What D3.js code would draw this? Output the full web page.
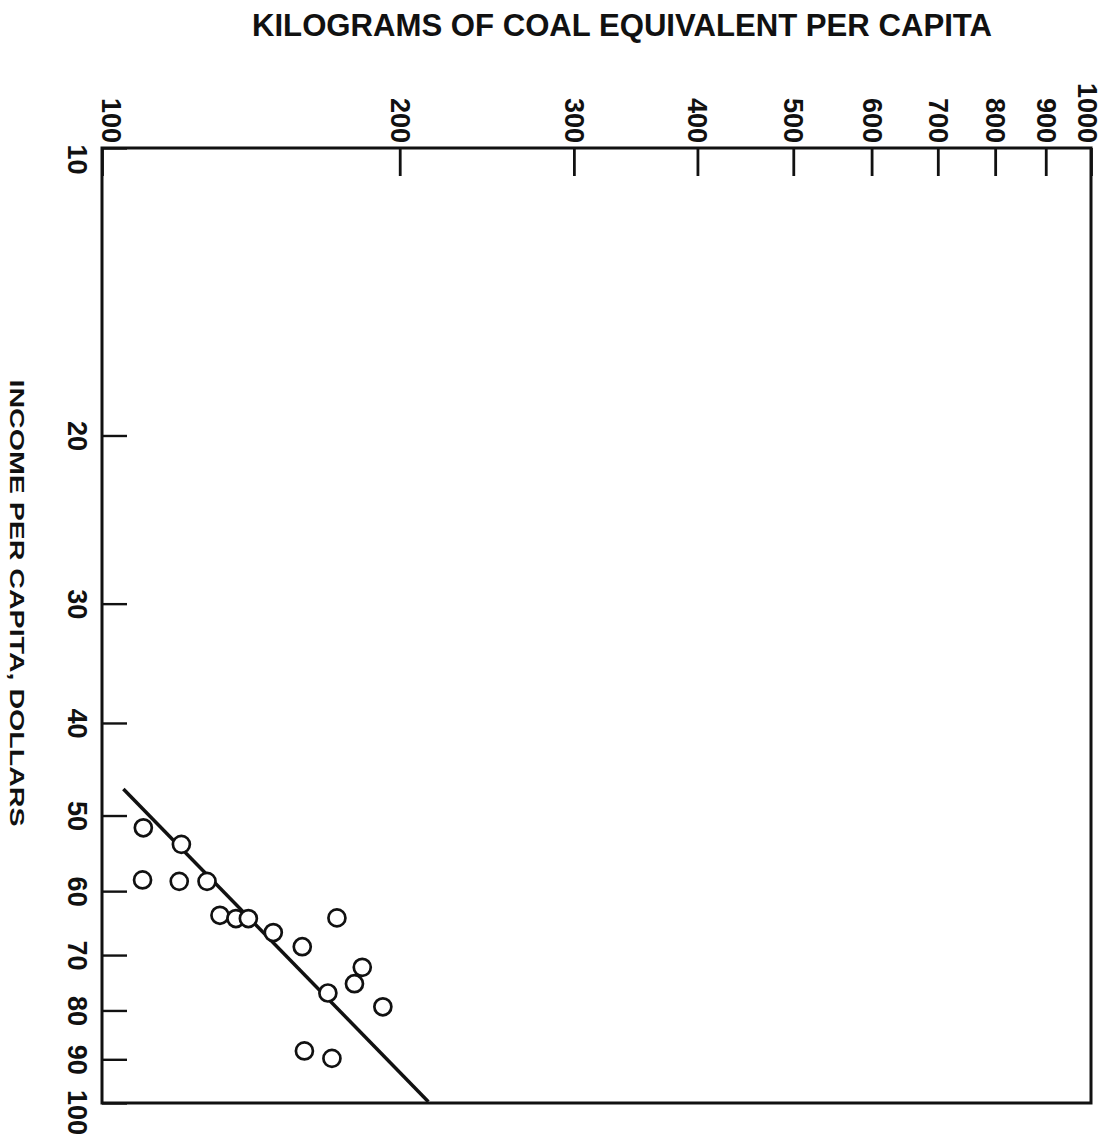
<!DOCTYPE html>
<html>
<head>
<meta charset="utf-8">
<script src="https://cdn.jsdelivr.net/npm/d3@7"></script>
<style>
  html, body { margin: 0; padding: 0; background: #fff; }
  svg { display: block; }
  text { font-family: "Liberation Sans", Arial, sans-serif; font-weight: 700; fill: #111; }
</style>
</head>
<body>
<svg id="chart" width="1113" height="1140"></svg>
<script>
// Energy consumption (kg coal equivalent per capita) against income per capita, log-log.
const energyTicks = [100, 200, 300, 400, 500, 600, 700, 800, 900, 1000];
const incomeTicks = [10, 20, 30, 40, 50, 60, 70, 80, 90, 100];

// Countries: energy use (kg) and income (dollars) per capita
const energyKg = [110.1, 120.3, 109.9, 119.7, 127.7, 131.6, 136.6, 140.6, 149.0, 159.4,
                  172.8, 183.3, 180.0, 169.2, 192.3, 160.2, 170.8];
const incomeUsd = [51.5, 53.6, 58.4, 58.6, 58.6, 63.6, 64.1, 64.1, 66.3, 68.6,
                   64.0, 72.1, 75.0, 76.7, 79.3, 88.2, 89.8];

// Fitted trend line end points
const fitEnergy = [105.1, 213.8];
const fitIncome = [46.9, 99.7];

const svg = d3.select("#chart");
const frame = { left: 102, right: 1091, top: 148, bottom: 1103 };

const x = d3.scaleLog().domain([100, 1000]).range([frame.left, frame.right]);
const y = d3.scaleLog().domain([10, 100]).range([frame.top, frame.bottom]);

// Title
svg.append("text")
  .attr("x", 622).attr("y", 36)
  .attr("text-anchor", "middle")
  .attr("font-size", 31)
  .attr("textLength", 740)
  .attr("lengthAdjust", "spacingAndGlyphs")
  .text("KILOGRAMS OF COAL EQUIVALENT PER CAPITA");

// Vertical axis title, reading downward
svg.append("text")
  .attr("transform", "translate(17,603) rotate(90)")
  .attr("text-anchor", "middle")
  .attr("dy", "0.35em")
  .attr("font-size", 21)
  .attr("textLength", 447)
  .attr("lengthAdjust", "spacingAndGlyphs")
  .text("INCOME PER CAPITA, DOLLARS");

// Top axis: inward ticks, rotated labels
const topAxis = d3.axisTop(x)
  .tickValues(energyTicks)
  .tickSizeInner(-28)
  .tickSizeOuter(0)
  .tickFormat(d3.format("d"));
const gTop = svg.append("g")
  .attr("transform", `translate(0,${frame.top})`)
  .call(topAxis);
gTop.select(".domain").remove();
gTop.selectAll(".tick line").attr("stroke", "#111").attr("stroke-width", 2.8);
const topShift = { 100: 9, 1000: -4 };
gTop.selectAll(".tick text")
  .attr("x", null).attr("y", null).attr("dy", "0.35em")
  .attr("transform", d => `translate(${topShift[d] || 0},-5) rotate(90)`)
  .attr("text-anchor", "end")
  .attr("font-size", 27)
  .attr("font-family", "'Liberation Sans', Arial, sans-serif")
  .attr("font-weight", 700)
  .attr("fill", "#111");

// Left axis: inward ticks, rotated labels
const leftAxis = d3.axisLeft(y)
  .tickValues(incomeTicks)
  .tickSizeInner(-25)
  .tickSizeOuter(0)
  .tickFormat(d3.format("d"));
const gLeft = svg.append("g")
  .attr("transform", `translate(${frame.left},0)`)
  .call(leftAxis);
gLeft.select(".domain").remove();
gLeft.selectAll(".tick line").attr("stroke", "#111").attr("stroke-width", 2.4);
const leftShift = { 10: 11, 100: 9 };
gLeft.selectAll(".tick text")
  .attr("x", null).attr("y", null).attr("dy", "0.35em")
  .attr("transform", d => `translate(${77 - frame.left},${leftShift[d] || 0}) rotate(90)`)
  .attr("text-anchor", "middle")
  .attr("font-size", 27)
  .attr("font-family", "'Liberation Sans', Arial, sans-serif")
  .attr("font-weight", 700)
  .attr("fill", "#111");

// Plot frame
svg.append("rect")
  .attr("x", frame.left).attr("y", frame.top)
  .attr("width", frame.right - frame.left)
  .attr("height", frame.bottom - frame.top)
  .attr("fill", "none")
  .attr("stroke", "#111")
  .attr("stroke-width", 3);

// Trend line
svg.append("line")
  .attr("x1", x(fitEnergy[0])).attr("y1", y(fitIncome[0]))
  .attr("x2", x(fitEnergy[1])).attr("y2", y(fitIncome[1]))
  .attr("stroke", "#111")
  .attr("stroke-width", 3.5);

// Country points
svg.append("g")
  .selectAll("circle")
  .data(d3.zip(energyKg, incomeUsd))
  .join("circle")
  .attr("cx", d => x(d[0]))
  .attr("cy", d => y(d[1]))
  .attr("r", 8.5)
  .attr("fill", "#fff")
  .attr("stroke", "#111")
  .attr("stroke-width", 2.7);
</script>
</body>
</html>
